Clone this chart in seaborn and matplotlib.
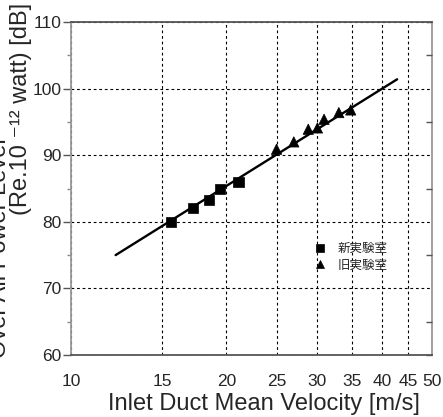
import matplotlib
matplotlib.use("Agg")
import matplotlib.pyplot as plt
import numpy as np
import pandas as pd
import seaborn as sns
from matplotlib.ticker import FixedLocator, FixedFormatter, NullLocator, MultipleLocator

# ---- data ----
new_v = [15.6, 17.2, 18.5, 19.4, 21.1]
new_db = [80.0, 82.1, 83.3, 84.9, 86.0]
old_v = [25.0, 27.0, 28.8, 30.0, 30.9, 33.0, 34.8]
old_db = [90.9, 92.0, 93.9, 94.1, 95.4, 96.4, 96.8]
fit_v = [12.2, 42.8]
fit_db = [75.0, 101.4]
group_labels = ["新実験室", "旧実験室"]
xtick_vals = [10, 15, 20, 25, 30, 35, 40, 45, 50]
xtick_labels = ["10", "15", "20", "25", "30", "35", "40", "45", "50"]
ytick_vals = [60, 70, 80, 90, 100, 110]
ytick_labels = ["60", "70", "80", "90", "100", "110"]

df = pd.DataFrame({
    "v": new_v + old_v,
    "db": new_db + old_db,
    "group": [group_labels[0]] * len(new_v) + [group_labels[1]] * len(old_v),
})
fit = pd.DataFrame({"v": fit_v, "db": fit_db})

sns.set_theme(style="white")
plt.rcParams["font.family"] = ["Liberation Sans", "DejaVu Sans", "Noto Sans CJK JP"]

fig = plt.figure(figsize=(4.43, 4.17), dpi=100)
ax = fig.add_axes([0.1603, 0.1487, 0.8149, 0.7985])

sns.lineplot(data=fit, x="v", y="db", color="black", lw=1.7, ax=ax, zorder=3)
sns.scatterplot(data=df, x="v", y="db", style="group",
                markers={group_labels[0]: "s", group_labels[1]: "^"},
                color="black", s=55, edgecolor="black", linewidth=0.5,
                ax=ax, zorder=4, legend=True)

ax.set_xscale("log")
ax.set_xlim(10, 50)
ax.set_ylim(60, 110)

ax.xaxis.set_major_locator(FixedLocator(xtick_vals))
ax.xaxis.set_major_formatter(FixedFormatter(xtick_labels))
ax.xaxis.set_minor_locator(NullLocator())
ax.yaxis.set_major_locator(FixedLocator(ytick_vals))
ax.yaxis.set_major_formatter(FixedFormatter(ytick_labels))
ax.yaxis.set_minor_locator(MultipleLocator(5))

ax.grid(True, which="major", color="black", ls=(0, (2.5, 2.5)), lw=0.8)
ax.set_axisbelow(True)

ax.tick_params(axis="y", which="major", direction="out", length=6, width=1,
               color="#555555", pad=1, labelsize=12.5, left=True)
ax.tick_params(axis="y", which="minor", direction="out", length=3, width=1,
               color="#888888", left=True)
ax.tick_params(axis="x", which="major", length=0, pad=14, labelsize=12.5)

for side in ["left", "right"]:
    ax.spines[side].set_color("#999999")
    ax.spines[side].set_linewidth(1.3)
for side in ["top", "bottom"]:
    ax.spines[side].set_color("#555555")
    ax.spines[side].set_linewidth(1.3)

# inward ticks on the right side
twin = ax.twinx()
twin.set_ylim(60, 110)
twin.yaxis.set_major_locator(FixedLocator([70, 80, 90, 100]))
twin.yaxis.set_minor_locator(MultipleLocator(5))
twin.tick_params(axis="y", which="both", direction="in", labelright=False,
                 color="#555555")
twin.tick_params(axis="y", which="major", length=0)
twin.tick_params(axis="y", which="minor", length=4, width=1)
for sp in twin.spines.values():
    sp.set_visible(False)

ax.set_xlabel("Inlet Duct Mean Velocity [m/s]", fontsize=17)
ax.xaxis.set_label_coords(0.535, -0.115)
ax.set_ylabel("")

fig.text(0.0, 1 - 358 / 417, "Over All Power Level", rotation=90,
         ha="center", va="bottom", fontsize=17)
fig.text(21 / 443, 1 - 215 / 417, "(Re.10 \u207b\u00b9\u00b2 watt) [dB]",
         rotation=90, ha="center", va="bottom", fontsize=17)

handles, labels = ax.get_legend_handles_labels()
leg = ax.legend(handles, labels, frameon=False, loc="center left",
                bbox_to_anchor=(0.625, 0.295), handletextpad=0.35,
                labelspacing=0.3, markerscale=0.7,
                prop={"family": ["Noto Sans CJK JP"], "size": 9})

fig.savefig("out.png", dpi=100)
